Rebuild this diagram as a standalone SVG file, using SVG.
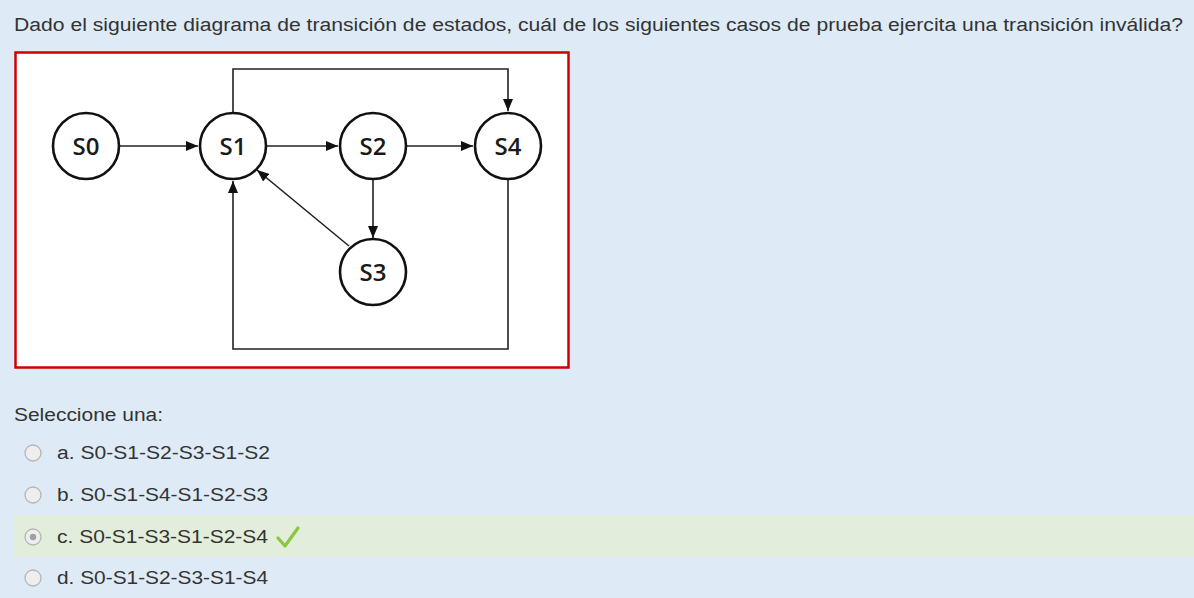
<svg xmlns="http://www.w3.org/2000/svg" width="1194" height="598" viewBox="0 0 1194 598">
<style>
.ui{font-family:"Liberation Sans",Arial,sans-serif;fill:#333333;font-size:18px}
.node circle{fill:#ffffff;stroke:#111111;stroke-width:2.6}
.node text{font-family:"Open Sans","Noto Sans",sans-serif;font-weight:600;font-size:24px;fill:#1a1a1a;text-anchor:middle}
.edge{fill:none;stroke:#222222;stroke-width:1.6}
.radio{fill:#eeeeee;stroke:#b5b5b5;stroke-width:1.3}
</style>
<defs>
<marker id="arr" viewBox="0 0 12 10" refX="12" refY="5" markerWidth="12" markerHeight="10" markerUnits="userSpaceOnUse" orient="auto">
<path d="M0,0 L12,5 L0,10 z" fill="#111111"/>
</marker>
</defs>
<rect width="1194" height="598" fill="#deebf6"/>
<text class="ui" x="14" y="31" font-size="17" textLength="1169" lengthAdjust="spacingAndGlyphs">Dado el siguiente diagrama de transición de estados, cuál de los siguientes casos de prueba ejercita una transición inválida?</text>
<rect x="15.5" y="52.5" width="553" height="315" fill="#ffffff" stroke="#d00000" stroke-width="2.5"/>
<g id="connectors">
<line class="edge" x1="120" y1="146" x2="198" y2="146" marker-end="url(#arr)"/>
<line class="edge" x1="267" y1="146" x2="338" y2="146" marker-end="url(#arr)"/>
<line class="edge" x1="407" y1="146" x2="473" y2="146" marker-end="url(#arr)"/>
<line class="edge" x1="373" y1="180" x2="373" y2="238" marker-end="url(#arr)"/>
<line class="edge" x1="349" y1="246" x2="257" y2="170" marker-end="url(#arr)"/>
<polyline class="edge" points="233,112 233,69 508,69 508,111" marker-end="url(#arr)"/>
<polyline class="edge" points="508,180 508,349 233,349 233,181" marker-end="url(#arr)"/>
</g>
<g id="S0" class="node"><circle cx="86" cy="146" r="33"/><text x="86" y="155">S0</text></g>
<g id="S1" class="node"><circle cx="233" cy="146" r="33"/><text x="233" y="155">S1</text></g>
<g id="S2" class="node"><circle cx="373" cy="146" r="33"/><text x="373" y="155">S2</text></g>
<g id="S4" class="node"><circle cx="508" cy="146" r="33"/><text x="508" y="155">S4</text></g>
<g id="S3" class="node"><circle cx="373" cy="272" r="33"/><text x="373" y="281">S3</text></g>
<text class="ui" x="14" y="421" textLength="149" lengthAdjust="spacingAndGlyphs">Seleccione una:</text>
<rect x="14" y="515" width="1180" height="42" fill="#e2eedb"/>
<circle class="radio" cx="33" cy="453" r="8"/>
<text class="ui" x="57" y="459" textLength="213" lengthAdjust="spacingAndGlyphs">a. S0-S1-S2-S3-S1-S2</text>
<circle class="radio" cx="33" cy="495" r="8"/>
<text class="ui" x="57" y="501" textLength="211" lengthAdjust="spacingAndGlyphs">b. S0-S1-S4-S1-S2-S3</text>
<circle class="radio" cx="33" cy="537" r="8"/>
<circle cx="33" cy="537" r="3.2" fill="#a0a0a0"/>
<text class="ui" x="57" y="543" textLength="211" lengthAdjust="spacingAndGlyphs">c. S0-S1-S3-S1-S2-S4</text>
<path d="M278,538 L285,546 L298,528" fill="none" stroke="#8cc63e" stroke-width="3.2" stroke-linecap="round" stroke-linejoin="round"/>
<circle class="radio" cx="33" cy="578" r="8"/>
<text class="ui" x="57" y="584" textLength="211" lengthAdjust="spacingAndGlyphs">d. S0-S1-S2-S3-S1-S4</text>
</svg>
